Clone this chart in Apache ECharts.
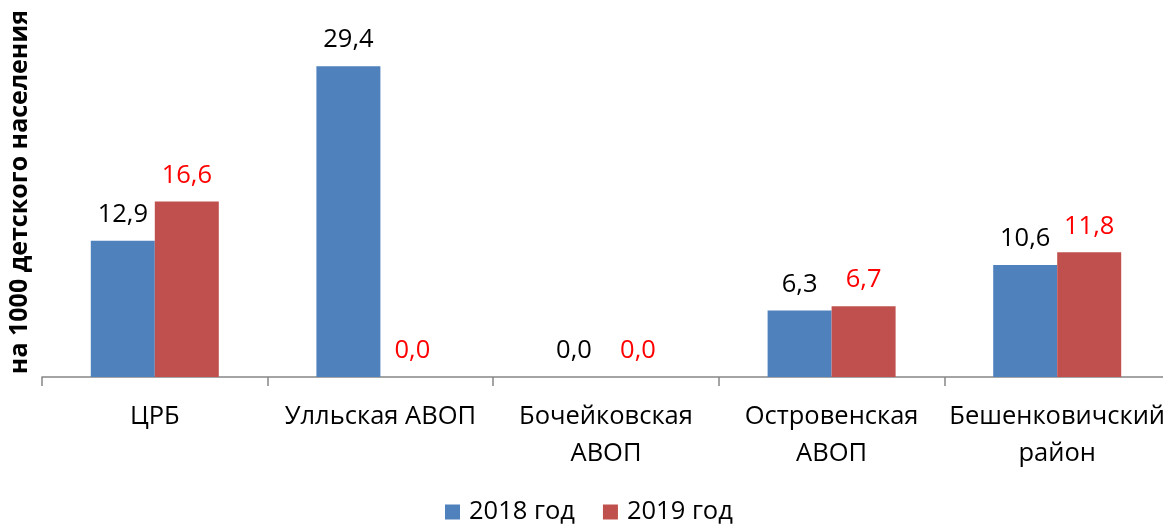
<!DOCTYPE html>
<html>
<head>
<meta charset="utf-8">
<script src="https://cdn.jsdelivr.net/npm/echarts@6/dist/echarts.min.js"></script>
<style>
  html, body { margin: 0; padding: 0; background: #fff; }
  #chart { width: 1163px; height: 524px; }
</style>
</head>
<body>
<div id="chart"></div>
<script>
// Categories (health facilities) and rates per 1000 children
const categories = ['ЦРБ', 'Улльская АВОП', 'Бочейковская\nАВОП', 'Островенская\nАВОП', 'Бешенковичский\nрайон'];
const series2018 = [12.9, 29.4, 0.0, 6.3, 10.6];
const series2019 = [16.6, 0.0, 0.0, 6.7, 11.8];
const seriesNames = ['2018 год', '2019 год'];
const axisTitle = 'на 1000 детского населения';

const FONT = 'Open Sans';
const SIZE = 25.5;
const fmt = p => p.value.toFixed(1).replace('.', ',');

const chart = echarts.init(document.getElementById('chart'));
chart.setOption({
  animation: false,
  textStyle: { fontFamily: FONT },
  grid: { left: 42, width: 1128, top: 7, bottom: 147, containLabel: false, outerBoundsMode: 'none' },
  legend: {
    bottom: -1,
    left: 445,
    padding: 0,
    itemWidth: 15,
    itemHeight: 15,
    itemGap: 28,
    icon: 'rect',
    textStyle: { fontFamily: FONT, fontSize: SIZE, color: '#000', padding: [0, 0, 0, 4] },
    data: seriesNames
  },
  xAxis: {
    type: 'category',
    data: categories,
    axisLine: { lineStyle: { color: '#868686', width: 1.5 } },
    axisTick: { show: true, length: 9, lineStyle: { color: '#868686', width: 1.5 } },
    axisLabel: {
      interval: 0,
      margin: 21,
      color: '#000',
      fontFamily: FONT,
      fontSize: SIZE,
      lineHeight: 37
    }
  },
  yAxis: {
    type: 'value',
    min: 0,
    max: 35,
    interval: 5,
    name: axisTitle,
    nameLocation: 'middle',
    nameRotate: 90,
    nameGap: 10,
    nameTextStyle: { fontFamily: FONT, fontSize: 25, fontWeight: 'bold', color: '#000' },
    axisLine: { show: false },
    axisTick: { show: false },
    axisLabel: { show: false },
    splitLine: { show: false }
  },
  series: [
    {
      name: seriesNames[0],
      type: 'bar',
      data: series2018,
      barWidth: 64,
      barGap: '0%',
      itemStyle: { color: '#4F81BD' },
      label: { show: true, position: 'top', distance: 13, formatter: fmt, color: '#000', fontFamily: FONT, fontSize: SIZE }
    },
    {
      name: seriesNames[1],
      type: 'bar',
      data: series2019,
      barWidth: 64,
      barGap: '0%',
      itemStyle: { color: '#C0504D' },
      label: { show: true, position: 'top', distance: 13, formatter: fmt, color: '#FF0000', fontFamily: FONT, fontSize: SIZE }
    }
  ]
});
</script>
</body>
</html>
